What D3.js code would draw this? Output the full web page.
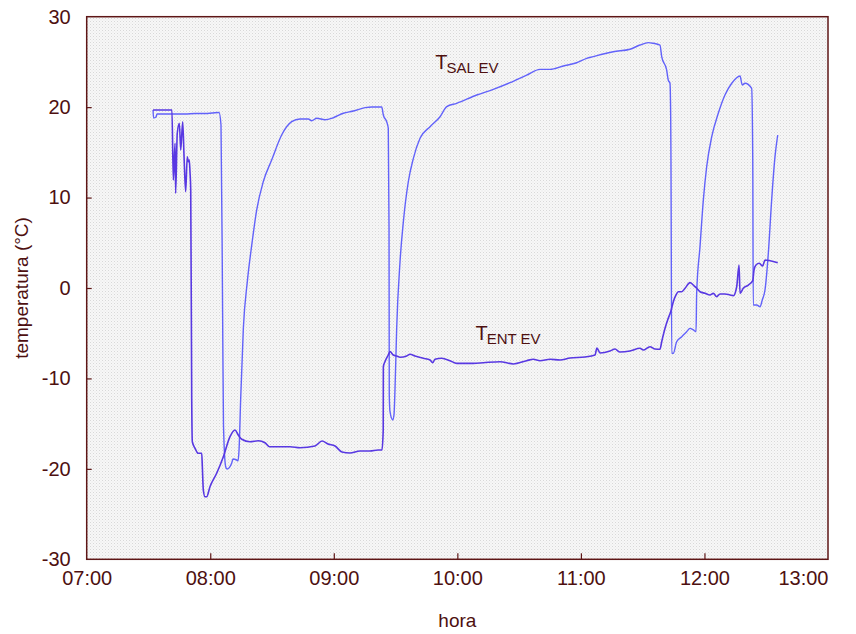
<!DOCTYPE html>
<html>
<head>
<meta charset="utf-8">
<script src="https://cdn.jsdelivr.net/npm/d3@7"></script>
<style>
  body { margin: 0; background: #ffffff; }
  svg { display: block; font-family: "Liberation Sans", Arial, sans-serif; }
</style>
</head>
<body>
<svg id="chart" width="856" height="634"></svg>
<script>
// Axis ticks (hours of the day, temperature in ºC)
const hourTicks = [7, 8, 9, 10, 11, 12, 13];
const hourTickLabels = ["07:00", "08:00", "09:00", "10:00", "11:00", "12:00", "13:00"];
const tempTicks = [-30, -20, -10, 0, 10, 20, 30];
const tempTickLabels = ["-30", "-20", "-10", "0", "10", "20", "30"];

// Evaporator outlet temperature T_SAL EV: [hour, ºC]
const tSalEv = [
  [7.537, 19.68], [7.541, 18.80], [7.561, 18.91], [7.569, 19.24], [7.690, 19.24],
  [7.796, 19.24], [7.877, 19.30], [7.958, 19.30], [8.014, 19.35], [8.071, 19.41],
  [8.087, 18.02], [8.100, -2.62], [8.107, -15.15], [8.125, -19.76], [8.136, -20.02],
  [8.174, -19.35], [8.184, -18.91], [8.214, -19.02], [8.225, -19.10], [8.233, -17.91],
  [8.246, -12.39], [8.268, -4.42], [8.300, 0.70], [8.336, 4.76], [8.376, 8.63],
  [8.429, 11.75], [8.497, 14.15], [8.578, 16.92], [8.659, 18.39], [8.726, 18.69],
  [8.794, 18.69], [8.821, 18.50], [8.862, 18.77], [8.929, 18.61], [8.996, 18.83],
  [9.077, 19.32], [9.158, 19.57], [9.253, 19.94], [9.307, 20.02], [9.388, 20.02],
  [9.401, 19.13], [9.428, 18.39], [9.441, 17.66], [9.447, 6.63], [9.449, -11.83],
  [9.455, -13.68], [9.477, -14.60], [9.487, -14.04], [9.498, -9.95], [9.509, -4.42],
  [9.536, 2.91], [9.563, 7.33], [9.603, 11.75], [9.644, 14.34], [9.698, 16.55],
  [9.779, 17.84], [9.860, 18.94], [9.914, 20.05], [9.995, 20.42], [10.157, 21.34],
  [10.291, 21.97], [10.426, 22.70], [10.561, 23.55], [10.669, 24.18], [10.750, 24.18],
  [10.858, 24.55], [10.966, 24.91], [11.047, 25.40], [11.100, 25.58], [11.181, 25.88],
  [11.262, 26.13], [11.397, 26.40], [11.478, 26.87], [11.546, 27.13], [11.586, 27.06],
  [11.640, 26.87], [11.654, 25.58], [11.694, 24.11], [11.707, 23.00], [11.721, 22.64],
  [11.727, 18.58], [11.729, 14.15], [11.735, -7.22], [11.748, -7.22], [11.775, -5.94],
  [11.816, -5.39], [11.856, -4.83], [11.883, -4.46], [11.910, -4.64], [11.932, -4.83],
  [11.937, -0.59], [11.964, 4.57], [11.991, 9.73], [12.018, 13.41], [12.059, 16.73],
  [12.112, 19.32], [12.166, 21.34], [12.221, 22.64], [12.288, 23.44], [12.306, 22.45],
  [12.328, 22.64], [12.382, 22.08], [12.391, 14.15], [12.395, -1.88], [12.423, -1.88],
  [12.450, -2.07], [12.468, -1.33], [12.490, -0.22], [12.517, 3.84], [12.544, 9.73],
  [12.571, 14.52], [12.593, 16.92]
];

// Evaporator inlet temperature T_ENT EV: [hour, ºC]
const tEntEv = [
  [7.537, 19.68], [7.690, 19.68], [7.701, 11.94], [7.715, 16.00], [7.720, 10.47],
  [7.733, 17.11], [7.750, 18.21], [7.761, 15.26], [7.777, 18.39], [7.788, 14.52],
  [7.801, 10.65], [7.814, 14.52], [7.822, 13.97], [7.830, 14.15], [7.836, 12.86],
  [7.842, 10.84], [7.850, -12.39], [7.855, -17.00], [7.877, -17.73], [7.903, -18.28],
  [7.931, -18.28], [7.936, -19.76], [7.944, -22.34], [7.958, -23.08], [7.971, -23.08],
  [7.998, -21.97], [8.052, -20.49], [8.106, -18.66], [8.160, -16.44], [8.200, -15.70],
  [8.227, -16.26], [8.255, -16.73], [8.322, -17.00], [8.389, -16.89], [8.443, -17.11],
  [8.478, -17.55], [8.646, -17.55], [8.726, -17.66], [8.848, -17.47], [8.905, -16.92],
  [8.953, -17.25], [9.010, -17.47], [9.066, -18.14], [9.131, -18.25], [9.212, -18.02],
  [9.293, -18.02], [9.358, -17.91], [9.390, -17.91], [9.400, -15.70], [9.401, -8.70],
  [9.414, -8.15], [9.441, -7.41], [9.455, -7.04], [9.482, -7.41], [9.509, -7.52],
  [9.536, -7.66], [9.590, -7.52], [9.617, -7.33], [9.657, -7.52], [9.724, -7.77],
  [9.779, -7.96], [9.800, -8.26], [9.819, -7.88], [9.873, -7.77], [9.941, -8.04],
  [9.995, -8.33], [10.048, -8.33], [10.129, -8.33], [10.210, -8.26], [10.345, -8.15],
  [10.453, -8.40], [10.561, -8.04], [10.615, -7.88], [10.669, -8.04], [10.750, -7.88],
  [10.831, -7.96], [10.912, -7.74], [11.033, -7.63], [11.114, -7.41], [11.130, -6.63],
  [11.155, -7.19], [11.236, -6.97], [11.276, -6.75], [11.316, -7.08], [11.397, -6.97],
  [11.478, -6.67], [11.505, -6.86], [11.559, -6.49], [11.600, -6.75], [11.640, -6.78],
  [11.654, -5.94], [11.681, -4.46], [11.707, -3.35], [11.727, -2.62], [11.748, -1.51],
  [11.770, -0.77], [11.788, -0.41], [11.816, -0.41], [11.843, -0.03], [11.883, 0.59],
  [11.910, 0.33], [11.937, -0.03], [11.964, -0.41], [12.005, -0.59], [12.045, -0.77],
  [12.072, -0.59], [12.099, -0.96], [12.126, -0.66], [12.166, -0.66], [12.207, -0.77],
  [12.234, -0.85], [12.261, 0.14], [12.280, 2.54], [12.288, -0.59], [12.314, -0.03],
  [12.355, 0.33], [12.391, 0.81], [12.401, 1.99], [12.417, 2.54], [12.444, 2.73],
  [12.471, 2.43], [12.490, 3.10], [12.531, 3.02], [12.593, 2.80]
];

const seriesLabels = [
  { main: "T", sub: "SAL EV", at: [9.822, 24.25] },
  { main: "T", sub: "ENT EV", at: [10.147, -5.75] }
];

const axisColor = "#5e1616";
const textColor = "#4e1010";
const salColor = "#6262fa";
const entColor = "#5838e2";

const svg = d3.select("#chart");
const margin = { left: 86.7, right: 28, top: 16.7, bottom: 74.7 };
const W = 856, H = 634;

const x = d3.scaleLinear().domain([7, 13]).range([margin.left, W - margin.right]);
const y = d3.scaleLinear().domain([-30, 30]).range([H - margin.bottom, margin.top]);

// stippled plot background
const defs = svg.append("defs");
const pat = defs.append("pattern").attr("id", "stipple")
  .attr("width", 3).attr("height", 3).attr("patternUnits", "userSpaceOnUse");
pat.append("rect").attr("width", 3).attr("height", 3).attr("fill", "#f7f7f7");
pat.append("rect").attr("x", 0).attr("y", 0).attr("width", 1).attr("height", 1).attr("fill", "#d8d8d8");
pat.append("rect").attr("x", 1.5).attr("y", 1.5).attr("width", 1).attr("height", 1).attr("fill", "#e4e4e4");

svg.append("rect")
  .attr("x", x(7)).attr("y", y(30))
  .attr("width", x(13) - x(7)).attr("height", y(-30) - y(30))
  .attr("fill", "url(#stipple)");

// series lines
const line = d3.line().x(d => x(d[0])).y(d => y(d[1])).curve(d3.curveMonotoneX);
svg.append("path").datum(tSalEv).attr("d", line)
  .attr("fill", "none").attr("stroke", salColor).attr("stroke-width", 1.4)
  .attr("stroke-linejoin", "round");
svg.append("path").datum(tEntEv).attr("d", line)
  .attr("fill", "none").attr("stroke", entColor).attr("stroke-width", 1.6)
  .attr("stroke-linejoin", "round");

// axes with inward ticks
const xAxis = d3.axisBottom(x).tickValues(hourTicks).tickSize(-6)
  .tickFormat((d, i) => hourTickLabels[i]).tickPadding(12);
const yAxis = d3.axisLeft(y).tickValues(tempTicks).tickSize(-5)
  .tickFormat((d, i) => tempTickLabels[i]).tickPadding(16);

const gx = svg.append("g").attr("transform", `translate(0,${y(-30)})`).call(xAxis);
const gy = svg.append("g").attr("transform", `translate(${x(7)},0)`).call(yAxis);
[gx, gy].forEach(g => {
  g.select(".domain").remove();
  g.selectAll(".tick line").attr("stroke", axisColor).attr("stroke-width", 1.2);
  g.selectAll(".tick text").attr("fill", textColor).attr("font-size", 20)
    .attr("font-family", "Liberation Sans, Arial, sans-serif");
});
gx.selectAll(".tick line").filter(d => d === 7 || d === 13).remove();
gy.selectAll(".tick line").filter(d => d === -30 || d === 30).remove();
gx.selectAll(".tick text").attr("dy", "0.71em")
  .filter(d => d === 13).attr("text-anchor", "end");

// plot frame
svg.append("rect")
  .attr("x", x(7)).attr("y", y(30))
  .attr("width", x(13) - x(7)).attr("height", y(-30) - y(30))
  .attr("fill", "none").attr("stroke", axisColor).attr("stroke-width", 1.5);

// axis titles
svg.append("text")
  .attr("x", (x(7) + x(13)) / 2).attr("y", 627)
  .attr("text-anchor", "middle").attr("fill", textColor).attr("font-size", 19)
  .text("hora");
svg.append("text")
  .attr("transform", `translate(28,${(y(30) + y(-30)) / 2}) rotate(-90)`)
  .attr("text-anchor", "middle").attr("fill", textColor).attr("font-size", 19)
  .text("temperatura (°C)");

// series labels with subscripts
seriesLabels.forEach(s => {
  const t = svg.append("text")
    .attr("x", x(s.at[0])).attr("y", y(s.at[1]))
    .attr("fill", textColor);
  t.append("tspan").attr("font-size", 20).text(s.main);
  t.append("tspan").attr("font-size", 15).attr("dy", 4).attr("dx", -1).text(s.sub);
});
</script>
</body>
</html>
